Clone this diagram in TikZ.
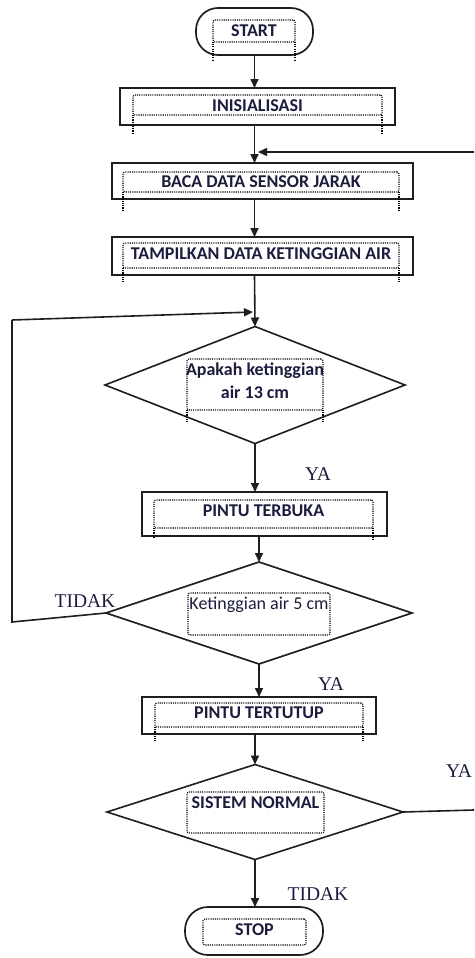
\documentclass[tikz,border=0pt]{standalone}
\usepackage{fontspec}
\setmainfont{Liberation Serif}
\newfontfamily\boxfont{Carlito}
\usetikzlibrary{shapes.geometric,arrows.meta}
\definecolor{ink}{RGB}{28,28,62}
\definecolor{edgec}{RGB}{30,30,30}
\tikzset{
  every node/.style={inner sep=0pt, outer sep=0pt},
  term/.style={draw=edgec, line width=1.7pt, rectangle, rounded corners=22pt},
  procbox/.style={draw=edgec, line width=1.7pt, rectangle},
  decide/.style={draw=edgec, line width=1.6pt, diamond},
  inbox/.style={draw=black, line width=1.1pt, dash pattern=on 1.1pt off 1.1pt, rectangle, rounded corners=2pt},
  legline/.style={draw=black, line width=1.1pt, dash pattern=on 1.1pt off 1.1pt},
  boxtx/.style={font=\boxfont\bfseries\fontsize{18}{23}\selectfont, text=ink, align=center},
  boxtxn/.style={font=\boxfont\fontsize{18}{23}\selectfont, text=ink, align=center},
  lbl/.style={font=\fontsize{19.5}{22}\selectfont, text=ink},
  flow/.style={draw=edgec, line width=1.6pt, -{Triangle[length=9pt,width=8pt]}},
  plain/.style={draw=edgec, line width=1.6pt},
}
\begin{document}
\begin{tikzpicture}[x=1pt,y=-1pt]
\useasboundingbox (0,0) rectangle (474,958);
\fill[white] (0,0) rectangle (474,958);

% START
\node[term, minimum width=117pt, minimum height=47pt] (start) at (254.5,31.5) {};
\node[inbox, minimum width=82pt, minimum height=22pt] (startin) at (254,31) {};
\node[boxtx] (starttx) at (254,31) {START};
\draw[legline] (startin.south west) -- ++(0,18);
\draw[legline] (startin.south east) -- ++(0,18);

% INISIALISASI
\node[procbox, minimum width=275pt, minimum height=37pt] (inis) at (257.5,106.5) {};
\node[inbox, minimum width=249pt, minimum height=20pt] (inisin) at (257.5,105) {};
\node[boxtx] (inistx) at (257.5,106) {INISIALISASI};
\draw[legline] (inisin.south west) -- ++(0,18);
\draw[legline] (inisin.south east) -- ++(0,18);

% BACA DATA SENSOR JARAK
\node[procbox, minimum width=301pt, minimum height=36pt] (baca) at (262.5,181) {};
\node[inbox, minimum width=276pt, minimum height=20pt] (bacain) at (261,182) {};
\node[boxtx] (bacatx) at (261,182) {BACA DATA SENSOR JARAK};
\draw[legline] (bacain.south west) -- ++(0,18);
\draw[legline] (bacain.south east) -- ++(0,18);

% TAMPILKAN
\node[procbox, minimum width=301pt, minimum height=38pt] (tamp) at (262.5,256) {};
\node[inbox, minimum width=276pt, minimum height=25pt] (tampin) at (261,255.5) {};
\node[boxtx] (tamptx) at (261,254) {TAMPILKAN DATA KETINGGIAN AIR};
\draw[legline] (tampin.south west) -- ++(0,15);
\draw[legline] (tampin.south east) -- ++(0,15);

% Decision 1
\node[decide, minimum width=300pt, minimum height=117pt] (d1) at (255,385) {};
\node[inbox, minimum width=136pt, minimum height=51pt] (d1in) at (255,384.5) {};
\node[boxtx] (d1tx) at (255,381) {Apakah ketinggian\\air 13 cm};
\draw[legline] (d1in.south west) -- ++(0,12);
\draw[legline] (d1in.south east) -- ++(0,12);

% PINTU TERBUKA
\node[procbox, minimum width=245pt, minimum height=44pt] (pt1) at (264.5,514) {};
\node[inbox, minimum width=219pt, minimum height=28pt] (pt1in) at (263.5,514) {};
\node[boxtx] (pt1tx) at (263.5,511) {PINTU TERBUKA};
\draw[legline] (pt1in.south west) -- ++(0,10);
\draw[legline] (pt1in.south east) -- ++(0,12);

% Decision 2
\node[decide, minimum width=306pt, minimum height=102pt] (d2) at (259,613) {};
\node[inbox, minimum width=142pt, minimum height=42pt] (d2in) at (259,614) {};
\node[boxtxn] (d2tx) at (259,605) {Ketinggian air 5 cm};

% PINTU TERTUTUP
\node[procbox, minimum width=234pt, minimum height=37pt] (pt2) at (259,715.5) {};
\node[inbox, minimum width=208pt, minimum height=24pt] (pt2in) at (259,715) {};
\node[boxtx] (pt2tx) at (259,713) {PINTU TERTUTUP};
\draw[legline] (pt2in.south west) -- ++(0,15);
\draw[legline] (pt2in.south east) -- ++(0,15);

% Decision 3
\node[decide, minimum width=296pt, minimum height=95pt] (d3) at (255,812) {};
\node[inbox, minimum width=137pt, minimum height=41pt] (d3in) at (255.5,812.5) {};
\node[boxtx] (d3tx) at (255.5,803) {SISTEM NORMAL};

% STOP
\node[term, minimum width=138pt, minimum height=48pt, rounded corners=23pt] (stop) at (254,931) {};
\node[inbox, minimum width=103pt, minimum height=26pt] (stopin) at (254.5,932) {};
\node[boxtx] (stoptx) at (254.5,930) {STOP};

% main flow
\draw[flow] (start.south) -- (start.south |- inis.north);
\draw[flow] (start.south |- inis.south) -- (start.south |- baca.north);
\draw[flow] (start.south |- baca.south) -- (start.south |- tamp.north);
\draw[flow] (start.south |- tamp.south) -- (d1.north);
\draw[flow] (d1.south) -- (d1.south |- pt1.north);
\draw[flow] (d2.north |- pt1.south) -- (d2.north);
\draw[flow] (d2.south) -- (d2.south |- pt2.north);
\draw[flow] (d3.north |- pt2.south) -- (d3.north);
\draw[flow] (d3.south) -- (d3.south |- stop.north);

% loop back from decision 2 (TIDAK)
\coordinate (lb) at (12,622);
\coordinate (lt) at (12,320);
\coordinate (lend) at (253,312);
\draw[plain] (d2.west) -- (lb) -- (lt);
\draw[flow] (lt) -- (lend);

% loop from decision 3 (YA) to the right edge
\coordinate (rb) at (474,810);
\coordinate (rt) at (474,152);
\coordinate (rend) at (258,152);
\draw[plain] (d3.east) -- (rb);
\draw[flow] (rt) -- (rend);

% labels
\node[lbl] (ya1) at (318,474) {YA};
\node[lbl] (tidak1) at (85,601) {TIDAK};
\node[lbl] (ya2) at (331,684) {YA};
\node[lbl] (ya3) at (459,771) {YA};
\node[lbl] (tidak2) at (318,894) {TIDAK};
\end{tikzpicture}
\end{document}
